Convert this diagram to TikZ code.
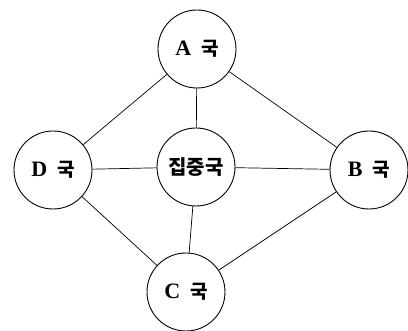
\documentclass[tikz,border=0pt]{standalone}
\usepackage{fontspec}
\setmainfont{Liberation Serif}
\newfontfamily\kr{Noto Sans CJK KR Bold}
\newcommand{\guk}{{\kr\fontsize{19}{20}\selectfont 국}}
\begin{document}
\begin{tikzpicture}[x=1pt,y=-1pt,
  station/.style={circle,draw,line width=0.9pt,minimum size=78pt,inner sep=0pt,font=\fontsize{22}{23}\selectfont\bfseries},
  link/.style={line width=0.7pt}]
\useasboundingbox (0,0) rectangle (408,331);
\node[station] (A) at (197,49) {A\hspace{10pt}\guk};
\node[station] (D) at (53,170) {D\hspace{10pt}\guk};
\node[station] (Z) at (196,167) {{\kr\fontsize{20}{22}\selectfont 집중국}};
\node[station] (B) at (369,170) {B\hspace{10pt}\guk};
\node[station] (C) at (186,292) {C\hspace{10pt}\guk};
\draw[link] (A) -- (D);
\draw[link] (A) -- (Z);
\draw[link] (A) -- (B);
\draw[link] (D) -- (Z);
\draw[link] (Z) -- (B);
\draw[link] (D) -- (C);
\draw[link] (Z) -- (C);
\draw[link] (B) -- (C);
\end{tikzpicture}
\end{document}
